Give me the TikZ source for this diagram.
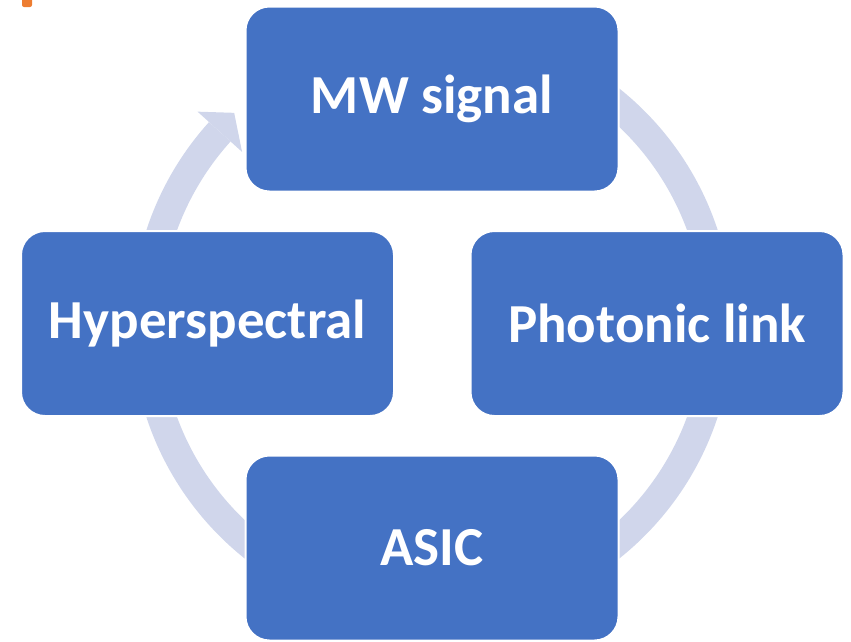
\documentclass[tikz,border=0pt]{standalone}
\usepackage{fontspec}
\setmainfont{Carlito}
\usetikzlibrary{calc}
\definecolor{boxblue}{HTML}{4472C4}
\definecolor{ringblue}{HTML}{D0D6EB}
\definecolor{orangemark}{HTML}{ED7D31}
\begin{document}
\begin{tikzpicture}[x=1pt,y=-1pt,
  cyclebox/.style={draw=white, line width=2pt, fill=boxblue, rounded corners=24pt,
    minimum width=373pt, minimum height=185pt, inner sep=0pt,
    text=white, font=\bfseries\fontsize{55}{60}\selectfont},
  ring/.style={draw=ringblue, line width=29pt}]
\useasboundingbox (0,0) rectangle (851,641);
\coordinate (c) at (432,323.5);
% orange mark
\fill[orangemark, rounded corners=2pt] (22,-5) rectangle (32,7);
% ring
\draw[ring] (c) ++(-90:286) arc[start angle=-90, end angle=222.1, radius=286];
\fill[ringblue] ($(c)+(222.1:316)$) -- ($(c)+(226.8:289)$) -- ($(c)+(222.1:256)$) -- cycle;
% boxes
\node[cyclebox] (mw) at (432,99) {MW signal};
\node[cyclebox] (pl) at (657,323.5) {Photonic link};
\node[cyclebox] (asic) at (432,548) {ASIC};
\node[cyclebox] (hs) at (207.5,323.5) {Hyperspectral};
\end{tikzpicture}
\end{document}
